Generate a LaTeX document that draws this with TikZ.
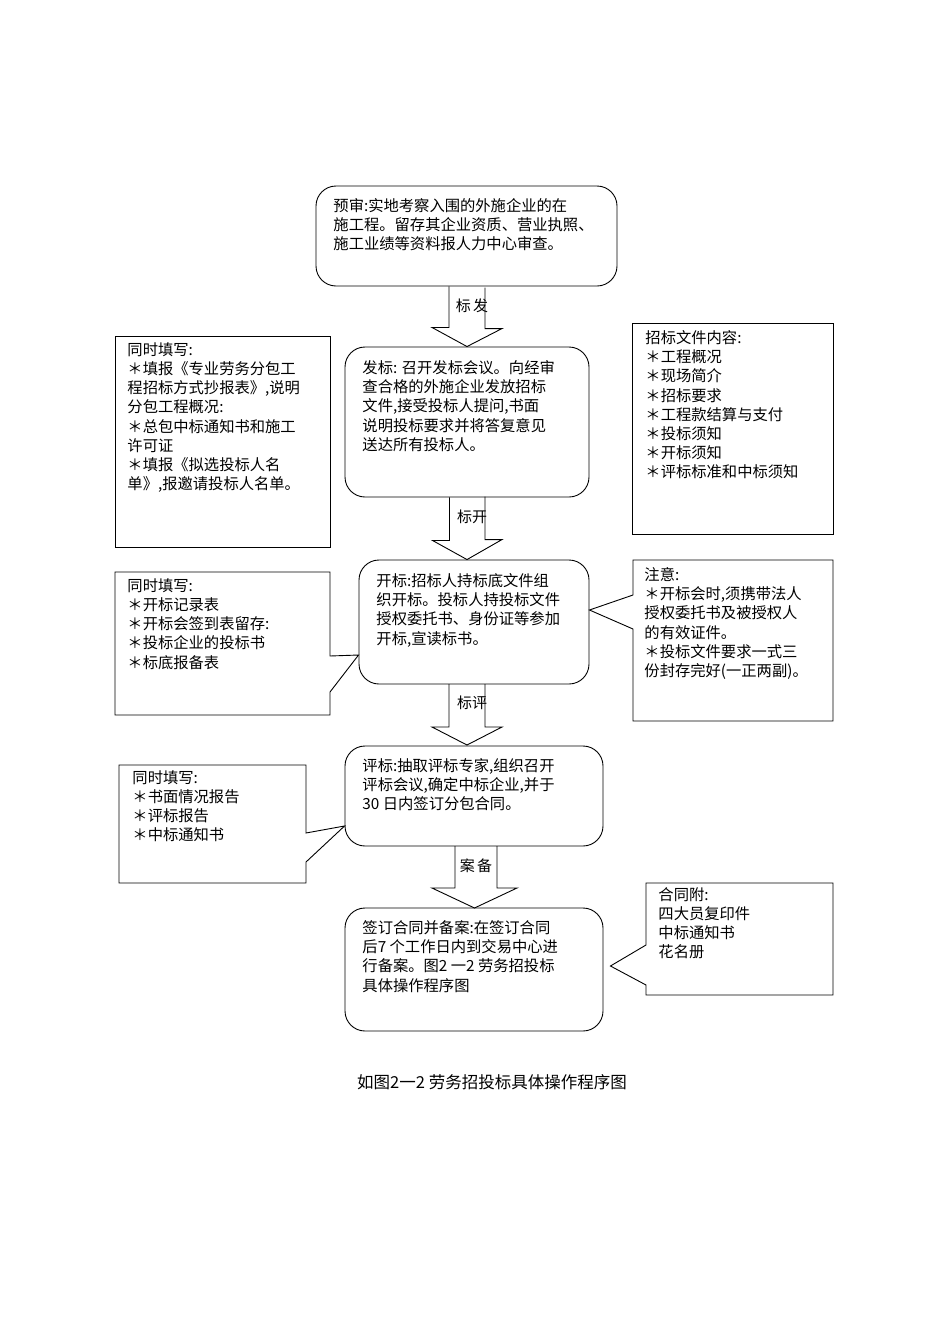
\documentclass[tikz,border=0pt]{standalone}
\usepackage{fontspec}
\setmainfont{Noto Sans CJK SC}
\usetikzlibrary{calc}
\begin{document}
\begin{tikzpicture}[x=1pt,y=-1pt,line width=0.9pt,
  rbox/.style={draw,rounded corners=20pt,inner sep=0pt},
  sbox/.style={draw,inner sep=0pt},
  txt/.style={anchor=north west,align=left,inner sep=0pt,font=\fontsize{15.3}{19.2}\selectfont},
  lbl/.style={inner sep=0pt,font=\fontsize{15}{16}\selectfont}]
\useasboundingbox (0,0) rectangle (950,1344);
\fill[white] (0,0) rectangle (950,1344);
% main boxes
\node[rbox,minimum width=301pt,minimum height=100pt] (b1) at (466.5,236) {};
\node[rbox,minimum width=244pt,minimum height=150pt] (b2) at (467,422) {};
\node[rbox,minimum width=230pt,minimum height=124pt] (b3) at (474,622) {};
\node[rbox,minimum width=258pt,minimum height=100pt] (b4) at (474,796) {};
\node[rbox,minimum width=258pt,minimum height=123pt] (b5) at (474,969.5) {};
% texts
\node[txt] (t1) at (333,198) {预审:实地考察入围的外施企业的在\\施工程。留存其企业资质、营业执照、\\施工业绩等资料报人力中心审查。};
\node[txt] (t2) at (362,360) {发标: 召开发标会议。向经审\\查合格的外施企业发放招标\\文件,接受投标人提问,书面\\说明投标要求并将答复意见\\送达所有投标人。};
\node[txt] (t3) at (376,573) {开标:招标人持标底文件组\\织开标。投标人持投标文件\\授权委托书、身份证等参加\\开标,宣读标书。};
\node[txt] (t4) at (362,758) {评标:抽取评标专家,组织召开\\评标会议,确定中标企业,并于\\30 日内签订分包合同。};
\node[txt] (t5) at (362,920) {签订合同并备案:在签订合同\\后7 个工作日内到交易中心进\\行备案。图2 一2 劳务招投标\\具体操作程序图};
% side boxes
\node[sbox,minimum width=215pt,minimum height=211pt] (l1) at (222.5,441.5) {};
\node[sbox,minimum width=201pt,minimum height=211pt] (r1) at (732.5,428.5) {};
\node[txt] (tl1) at (127,342) {同时填写:\\＊填报《专业劳务分包工\\程招标方式抄报表》,说明\\分包工程概况:\\＊总包中标通知书和施工\\许可证\\＊填报《拟选投标人名\\单》,报邀请投标人名单。};
\node[txt] (tr1) at (645,330) {招标文件内容:\\＊工程概况\\＊现场简介\\＊招标要求\\＊工程款结算与支付\\＊投标须知\\＊开标须知\\＊评标标准和中标须知};
% callouts
\draw (115,572) -- (330,572) -- (330,656) -- (b3.west |- 0,655) -- (330,692) -- (330,715) -- (115,715) -- cycle;
\coordinate (c2) at (b3.east |- 0,610);
\draw (633,560) -- (833,560) -- (833,721) -- (633,721) -- (633,629) -- (c2) -- (633,595) -- cycle;
\draw (119,765) -- (306,765) -- (306,833) -- (b4.west |- 0,826) -- (306,862) -- (306,883) -- (119,883) -- cycle;
\coordinate (c5) at ($(b5.east |- 0,966)+(7,0)$);
\draw (646,883) -- (833,883) -- (833,995) -- (646,995) -- (646,985) -- (c5) -- (646,945) -- cycle;
\node[txt] (tl2) at (127,578) {同时填写:\\＊开标记录表\\＊开标会签到表留存:\\＊投标企业的投标书\\＊标底报备表};
\node[txt] (tr2) at (644,567) {注意:\\＊开标会时,须携带法人\\授权委托书及被授权人\\的有效证件。\\＊投标文件要求一式三\\份封存完好(一正两副)。};
\node[txt] (tl3) at (132,770) {同时填写:\\＊书面情况报告\\＊评标报告\\＊中标通知书};
\node[txt] (tr3) at (658,887) {合同附:\\四大员复印件\\中标通知书\\花名册};
% arrows
\draw ($(b1.south)+(-17.5,0)$) -- ++(0,41) -- ++(-17,0) -- (b2.north) -- ++(35,-18) -- ++(-17,0) -- ++(0,-41);
\draw ($(b2.south)+(-17.5,0)$) -- ++(0,43) -- ++(-17,0) -- (b2.south |- b3.north) -- ++(35,-20) -- ++(-17,0) -- ++(0,-43);
\draw (449,684) -- (449,727) -- (432,727) -- (467,745) -- (502,727) -- (485,727) -- (485,684);
\draw (455,846) -- (455,888) -- (432,888) -- (474.5,908) -- (517,888) -- (497,888) -- (497,846);
\node[lbl] (a1) at (472,306) {标\,发};
\node[lbl] (a2) at (472,517) {标开};
\node[lbl] (a3) at (472,703) {标评};
\node[lbl] (a4) at (476,866) {案\,备};
\node[lbl,font=\fontsize{16.5}{18}\selectfont] (cap) at (492,1082) {如图2一2 劳务招投标具体操作程序图};
\end{tikzpicture}
\end{document}
